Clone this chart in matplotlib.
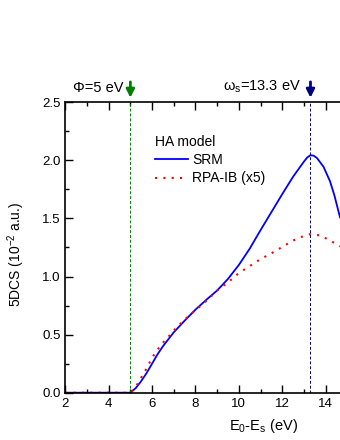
import matplotlib.pyplot as plt
import numpy as np
from matplotlib.ticker import MultipleLocator

plt.rcParams['font.family'] = ['Liberation Sans', 'DejaVu Sans']
plt.rcParams['mathtext.fontset'] = 'custom'
plt.rcParams['mathtext.rm'] = 'Liberation Sans'
plt.rcParams['mathtext.it'] = 'Liberation Sans'

# SRM curve (blue solid)
srm_x = [2.0, 5.0, 5.25, 5.5, 5.75, 6.0, 6.25, 6.5, 6.75, 7.0, 7.5, 8.0, 8.5,
         9.0, 9.5, 10.0, 10.5, 11.0, 11.5, 12.0, 12.5, 13.0, 13.15, 13.3,
         13.45, 13.6, 13.9, 14.2, 14.4, 14.66]
srm_y = [0.0, 0.0, 0.04, 0.10, 0.17, 0.25, 0.33, 0.40, 0.46, 0.52, 0.62, 0.715,
         0.80, 0.88, 0.98, 1.10, 1.24, 1.40, 1.555, 1.71, 1.86, 1.99, 2.025,
         2.045, 2.04, 2.02, 1.945, 1.82, 1.70, 1.51]

# RPA-IB curve (x5, red dotted)
rpa_x = [2.0, 5.0, 5.25, 5.5, 5.75, 6.0, 6.25, 6.5, 6.75, 7.0, 7.5, 8.0, 8.5,
         9.0, 9.5, 10.0, 10.5, 11.0, 11.5, 12.0, 12.5, 13.0, 13.3, 13.7, 14.0,
         14.3, 14.66]
rpa_y = [0.0, 0.0, 0.05, 0.13, 0.21, 0.30, 0.37, 0.43, 0.48, 0.535, 0.63, 0.71,
         0.79, 0.88, 0.95, 1.03, 1.09, 1.15, 1.20, 1.255, 1.31, 1.35, 1.365,
         1.355, 1.33, 1.30, 1.26]

phi = 5.0
omega_s = 13.3

fig = plt.figure(figsize=(3.4, 4.4), dpi=100)
ax = fig.add_axes([0.192, 0.1075, 0.808, 0.66])

ax.plot(srm_x, srm_y, color='#0000ff', lw=1.3, label='SRM')
ax.plot(rpa_x, rpa_y, color='#ff0000', lw=1.5, linestyle=(0, (1, 3)),
        label='RPA-IB (x5)')

# vertical markers
ax.axvline(phi, color='#008000', lw=0.7, linestyle=(0, (3, 2)))
ax.axvline(omega_s, color='#000080', lw=0.7, linestyle=(0, (3, 2)))

ax.set_xlim(2, 14.66)
ax.set_ylim(0, 2.5)
ax.xaxis.set_major_locator(MultipleLocator(2))
ax.xaxis.set_minor_locator(MultipleLocator(1))
ax.yaxis.set_major_locator(MultipleLocator(0.5))
ax.yaxis.set_minor_locator(MultipleLocator(0.25))
ax.yaxis.set_major_formatter(plt.FormatStrFormatter('%.1f'))
ax.tick_params(which='both', direction='in', top=True, right=False,
               width=1.0, labelsize=9.5)
ax.tick_params(which='major', length=5.5)
ax.tick_params(which='minor', length=3)
ax.spines['right'].set_visible(False)
for s in ['left', 'bottom', 'top']:
    ax.spines[s].set_linewidth(1.2)

ax.set_xlabel('E$_0$-E$_s$ (eV)', fontsize=10.5)
ax.xaxis.set_label_coords(0.72, -0.085)
ax.set_ylabel('5DCS (10$^{-2}$ a.u.)', fontsize=10)
ax.yaxis.set_label_coords(-0.14, 0.475)

leg = ax.legend(title='HA model', loc='upper left', bbox_to_anchor=(0.28, 0.93),
                frameon=False, fontsize=10, title_fontsize=10, handlelength=2.4,
                handletextpad=0.3, labelspacing=0.3, alignment='left')

# arrows and labels above the axes
for xv, col in [(phi, '#008000'), (omega_s, '#000080')]:
    ax.annotate('', xy=(xv, 2.515), xytext=(xv, 2.7), xycoords='data',
                annotation_clip=False,
                arrowprops=dict(arrowstyle='-|>', color=col, lw=2.0,
                                mutation_scale=12))
ax.text(phi - 0.3, 2.56, '\u03a6=5 eV', ha='right', va='bottom', fontsize=10.5)
ax.text(omega_s - 0.45, 2.56, '\u03c9$_s$=13.3 eV', ha='right', va='bottom',
        fontsize=10.5)

fig.savefig('out.png', dpi=100)
